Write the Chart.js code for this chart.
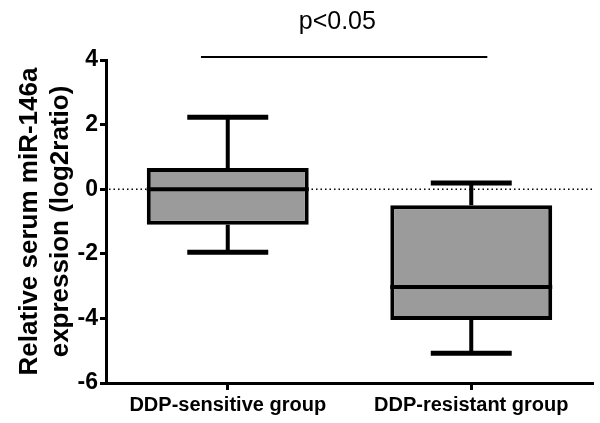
<!DOCTYPE html>
<html>
<head>
<meta charset="utf-8">
<script src="https://cdn.jsdelivr.net/npm/chart.js@4"></script>
<style>
  html, body { margin: 0; padding: 0; background: #fff; }
</style>
</head>
<body>
<canvas id="chart" width="600" height="423"></canvas>
<script>
// box plot values
const groups = ["DDP-sensitive group", "DDP-resistant group"];
const whiskerMin = [-1.95, -5.08];
const q1 = [-1.1, -4.05];
const median = [0, -3.03];
const q3 = [0.66, -0.5];
const whiskerMax = [2.23, 0.19];
const yTicks = [-6, -4, -2, 0, 2, 4];

// significance bar (x in category units, y in data units)
const sigText = "p<0.05";
const sigFrom = -0.11;
const sigTo = 1.066;
const sigY = 4.09;
const sigTextAt = 0.45;

const FONT = "'Liberation Sans', Arial, Helvetica, sans-serif";
Chart.defaults.font.family = FONT;
Chart.defaults.color = "#000";

const boxPlot = {
  id: "boxPlot",
  beforeDatasetsDraw(chart) {
    const { ctx, chartArea, scales: { y } } = chart;
    const y0 = y.getPixelForValue(0);
    ctx.save();
    // dotted zero line
    ctx.strokeStyle = "#000";
    ctx.lineWidth = 1.5;
    ctx.setLineDash([1.5, 3]);
    ctx.beginPath();
    ctx.moveTo(chartArea.left + 3, y0);
    ctx.lineTo(chartArea.right, y0);
    ctx.stroke();
    ctx.setLineDash([]);

    // whiskers + caps
    const meta = chart.getDatasetMeta(0);
    ctx.lineWidth = 4;
    meta.data.forEach((bar, i) => {
      const cx = bar.x;
      const cap = bar.width / 4;
      const yHi = y.getPixelForValue(whiskerMax[i]);
      const yLo = y.getPixelForValue(whiskerMin[i]);
      ctx.beginPath();
      ctx.moveTo(cx, y.getPixelForValue(q3[i]));
      ctx.lineTo(cx, yHi);
      ctx.moveTo(cx, y.getPixelForValue(q1[i]));
      ctx.lineTo(cx, yLo);
      ctx.stroke();
      ctx.lineWidth = 5;
      ctx.beginPath();
      ctx.moveTo(cx - cap, yHi);
      ctx.lineTo(cx + cap, yHi);
      ctx.moveTo(cx - cap, yLo);
      ctx.lineTo(cx + cap, yLo);
      ctx.stroke();
      ctx.lineWidth = 4;
    });
    ctx.restore();
  },
  afterDatasetsDraw(chart) {
    const { ctx, scales: { x, y } } = chart;
    const meta = chart.getDatasetMeta(0);
    ctx.save();
    ctx.strokeStyle = "#000";
    ctx.lineWidth = 4;
    meta.data.forEach((bar, i) => {
      const ym = y.getPixelForValue(median[i]);
      ctx.beginPath();
      ctx.moveTo(bar.x - bar.width / 2, ym);
      ctx.lineTo(bar.x + bar.width / 2, ym);
      ctx.stroke();
    });

    // significance line and label
    const ys = y.getPixelForValue(sigY);
    ctx.lineWidth = 2;
    ctx.beginPath();
    ctx.moveTo(x.getPixelForValue(sigFrom), ys);
    ctx.lineTo(x.getPixelForValue(sigTo), ys);
    ctx.stroke();
    ctx.fillStyle = "#000";
    ctx.font = "25px " + FONT;
    ctx.textAlign = "center";
    ctx.textBaseline = "alphabetic";
    ctx.fillText(sigText, x.getPixelForValue(sigTextAt), 29);
    ctx.restore();
  }
};

new Chart(document.getElementById("chart"), {
  type: "bar",
  data: {
    labels: groups,
    datasets: [{
      data: groups.map((g, i) => [q1[i], q3[i]]),
      backgroundColor: "#9b9b9b",
      borderColor: "#000",
      borderWidth: 4,
      borderSkipped: false,
      barPercentage: 0.665,
      categoryPercentage: 1
    }]
  },
  options: {
    responsive: false,
    animation: false,
    layout: { padding: { top: 60, right: 7, left: 0, bottom: 0 } },
    plugins: {
      legend: { display: false },
      tooltip: { enabled: false }
    },
    scales: {
      x: {
        offset: true,
        afterFit: (s) => { s.height = 40; },
        grid: { display: true, offset: false, drawOnChartArea: false, tickLength: 7, tickWidth: 3, tickColor: "#000" },
        border: { display: true, color: "#000", width: 3 },
        ticks: { color: "#000", font: { size: 20, weight: "bold" }, padding: 3, maxRotation: 0, autoSkip: false }
      },
      y: {
        min: -6,
        max: 4,
        afterBuildTicks: (s) => { s.ticks = yTicks.map((v) => ({ value: v })); },
        afterFit: (s) => { s.width = 106; },
        grid: { display: true, drawOnChartArea: false, tickLength: 6, tickWidth: 3, tickColor: "#000" },
        border: { display: true, color: "#000", width: 3 },
        ticks: { color: "#000", font: { size: 23, weight: "bold" }, padding: 2 },
        title: {
          display: true,
          text: ["Relative serum miR-146a", "expression (log2ratio)"],
          color: "#000",
          font: { size: 26, weight: "bold", lineHeight: 1.2 },
          padding: { top: 14, bottom: 0 }
        }
      }
    }
  },
  plugins: [boxPlot]
});
</script>
</body>
</html>
